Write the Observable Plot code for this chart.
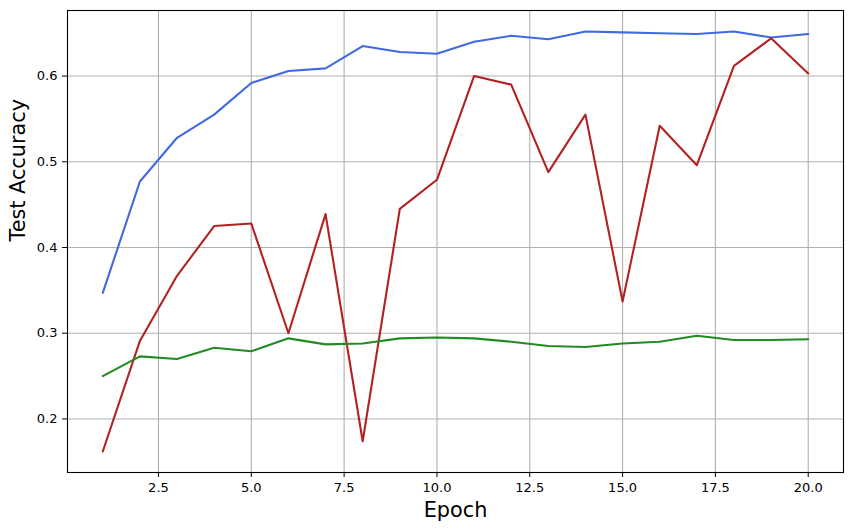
<!DOCTYPE html>
<html>
<head>
<meta charset="utf-8">
<script src="https://cdn.jsdelivr.net/npm/d3@7"></script>
<script src="https://cdn.jsdelivr.net/npm/@observablehq/plot@0.6"></script>
<style>
  html, body { margin: 0; padding: 0; background: #ffffff; }
  #chart svg { display: block; }
</style>
</head>
<body>
<div id="chart"></div>
<script>
// ---- data ----
const epochs = [1, 2, 3, 4, 5, 6, 7, 8, 9, 10, 11, 12, 13, 14, 15, 16, 17, 18, 19, 20];
const blueAccuracy = [0.347, 0.477, 0.528, 0.555, 0.592, 0.606, 0.609, 0.635, 0.628, 0.626,
                      0.640, 0.647, 0.643, 0.652, 0.651, 0.650, 0.649, 0.652, 0.645, 0.649];
const redAccuracy = [0.162, 0.291, 0.367, 0.425, 0.428, 0.300, 0.439, 0.174, 0.445, 0.479,
                     0.600, 0.590, 0.488, 0.555, 0.337, 0.542, 0.496, 0.612, 0.644, 0.603];
const greenAccuracy = [0.250, 0.273, 0.270, 0.283, 0.279, 0.294, 0.287, 0.288, 0.294, 0.295,
                       0.294, 0.290, 0.285, 0.284, 0.288, 0.290, 0.297, 0.292, 0.292, 0.293];
const seriesNames = ["blue run", "red run", "green run"];
const seriesColors = ["#4169e1", "#b22222", "#228b22"];
const xTicks = [2.5, 5.0, 7.5, 10.0, 12.5, 15.0, 17.5, 20.0];
const yTicks = [0.2, 0.3, 0.4, 0.5, 0.6];
const xLabel = "Epoch";
const yLabel = "Test Accuracy";

const seriesValues = [blueAccuracy, redAccuracy, greenAccuracy];
const rows = seriesNames.flatMap((name, i) =>
  epochs.map((e, j) => ({series: name, epoch: e, accuracy: seriesValues[i][j]}))
);

// matplotlib-style 5% margins around the data
const xMin = d3.min(epochs), xMax = d3.max(epochs);
const allY = seriesValues.flat();
const yMin = d3.min(allY), yMax = d3.max(allY);
const xPad = (xMax - xMin) * 0.05, yPad = (yMax - yMin) * 0.05;

const gridStyle = {stroke: "#b0b0b0", strokeOpacity: 1, strokeWidth: 1.1};

const chart = Plot.plot({
  width: 852,
  height: 531,
  marginLeft: 67,
  marginRight: 9,
  marginTop: 10,
  marginBottom: 59,
  style: {fontFamily: "'DejaVu Sans', sans-serif", fontSize: "13px", background: "#ffffff", color: "#000000"},
  x: {domain: [xMin - xPad, xMax + xPad]},
  y: {domain: [yMin - yPad, yMax + yPad]},
  color: {domain: seriesNames, range: seriesColors},
  marks: [
    Plot.gridX(xTicks, gridStyle),
    Plot.gridY(yTicks, gridStyle),
    Plot.line(rows, {x: "epoch", y: "accuracy", z: "series", stroke: "series", strokeWidth: 2.1}),
    Plot.frame({stroke: "#000000", strokeWidth: 1.1}),
    Plot.axisX(xTicks, {tickFormat: d => d.toFixed(1), tickSize: 5, tickPadding: 5.5, label: null, fontSize: 13}),
    Plot.axisY(yTicks, {tickFormat: d => d.toFixed(1), tickSize: 5, tickPadding: 5, label: null, fontSize: 13}),
    Plot.text([xLabel], {text: d => d, frameAnchor: "bottom", dy: 38, fontSize: 20.8, lineAnchor: "middle"}),
    Plot.text([yLabel], {text: d => d, frameAnchor: "left", dx: -49, rotate: -90, fontSize: 20.8, lineAnchor: "middle"})
  ]
});
document.getElementById("chart").appendChild(chart);
</script>
</body>
</html>
